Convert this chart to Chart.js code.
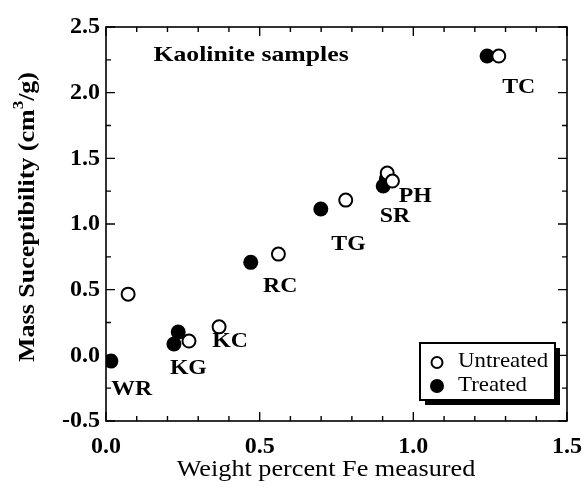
<!DOCTYPE html>
<html><head><meta charset="utf-8">
<script src="https://cdn.jsdelivr.net/npm/chart.js@4"></script>
<style>html,body{margin:0;padding:0;background:#fff}#wrap{width:584px;height:495px}</style>
</head><body><div id="wrap"><canvas id="c" width="584" height="495"></canvas></div>
<script>
// ---- data ----
const untreatedX = [0.072, 0.270, 0.368, 0.561, 0.780, 0.915, 0.932, 1.278];
const untreatedY = [0.466, 0.109, 0.217, 0.771, 1.182, 1.388, 1.327, 2.279];
const treatedX = [0.016, 0.235, 0.221, 0.471, 0.699, 0.912, 0.902, 1.240];
const treatedY = [-0.044, 0.177, 0.086, 0.708, 1.114, 1.342, 1.289, 2.279];
const sampleLabels = ['TC', 'PH', 'SR', 'TG', 'RC', 'KC', 'KG', 'WR'];
const labelX = [1.343, 1.006, 0.940, 0.789, 0.567, 0.404, 0.268, 0.084];
const labelY = [2.040, 1.213, 1.055, 0.847, 0.527, 0.109, -0.100, -0.259];
const noteText = 'Kaolinite samples';
const noteX = 0.472, noteY = 2.287;
const xRange = [0, 1.5], yRange = [-0.5, 2.5];
const xMajor = 0.5, xMinor = 0.1, yMajor = 0.5, yMinor = 0.25;
const seriesNames = ['Untreated', 'Treated'];
const xTitle = 'Weight percent Fe measured';
const yTitleA = 'Mass Suceptibility (cm', yTitleSup = '3', yTitleB = '/g)';

const SERIF = '"Liberation Serif", "Times New Roman", serif';
const toPts = (xs, ys) => xs.map((x, i) => ({x: x, y: ys[i]}));

// draw text stretched along its direction by sx (scan looks wider than Liberation metrics)
function sText(ctx, t, x, y, font, sx, align) {
  ctx.save();
  ctx.font = font;
  ctx.translate(x, y);
  ctx.scale(sx, 1);
  ctx.textAlign = align || 'center';
  ctx.fillText(t, 0, 0);
  ctx.restore();
}

const decor = {
  id: 'decor',
  beforeDatasetsDraw(chart) {
    const {ctx, chartArea: a, scales: {x, y}} = chart;
    ctx.save();
    ctx.strokeStyle = '#000';
    ctx.lineWidth = 1.6;
    ctx.strokeRect(a.left, a.top, a.right - a.left, a.bottom - a.top);
    ctx.lineWidth = 1.4;
    ctx.beginPath();
    const nx = Math.round((xRange[1] - xRange[0]) / xMinor);
    for (let i = 0; i <= nx; i++) {
      const v = xRange[0] + i * xMinor;
      const major = Math.abs(v / xMajor - Math.round(v / xMajor)) < 1e-6;
      const L = major ? 9 : 5;
      const px = x.getPixelForValue(v);
      ctx.moveTo(px, a.bottom); ctx.lineTo(px, a.bottom - L);
      ctx.moveTo(px, a.top); ctx.lineTo(px, a.top + L);
    }
    const ny = Math.round((yRange[1] - yRange[0]) / yMinor);
    for (let i = 0; i <= ny; i++) {
      const v = yRange[0] + i * yMinor;
      const major = Math.abs(v / yMajor - Math.round(v / yMajor)) < 1e-6;
      const L = major ? 9 : 5;
      const py = y.getPixelForValue(v);
      ctx.moveTo(a.left, py); ctx.lineTo(a.left + L, py);
      ctx.moveTo(a.right, py); ctx.lineTo(a.right - L, py);
    }
    ctx.stroke();
    ctx.restore();
  },
  afterDatasetsDraw(chart) {
    const {ctx, chartArea: a, scales: {x, y}} = chart;
    ctx.save();
    ctx.fillStyle = '#000';
    ctx.textBaseline = 'middle';
    const fLab = 'bold 22px ' + SERIF;
    sampleLabels.forEach((t, i) => {
      sText(ctx, t, x.getPixelForValue(labelX[i]), y.getPixelForValue(labelY[i]), fLab, 1.08);
    });
    sText(ctx, noteText, x.getPixelForValue(noteX), y.getPixelForValue(noteY), 'bold 22px ' + SERIF, 1.17);

    // legend box
    const bx = a.right - 147, by = a.bottom - 78, bw = 135, bh = 57;
    ctx.fillRect(bx + 5, by + 5, bw, bh);
    ctx.fillStyle = '#fff';
    ctx.fillRect(bx, by, bw, bh);
    ctx.lineWidth = 2;
    ctx.strokeStyle = '#000';
    ctx.strokeRect(bx, by, bw, bh);
    ctx.fillStyle = '#000';
    const rows = [by + 18.5, by + 42];
    ctx.beginPath();
    ctx.arc(bx + 17, rows[0] + 1, 5.5, 0, Math.PI * 2);
    ctx.lineWidth = 2; ctx.stroke();
    ctx.beginPath();
    ctx.arc(bx + 17, rows[1] + 1, 7, 0, Math.PI * 2);
    ctx.fill();
    const fLeg = '22px ' + SERIF;
    sText(ctx, seriesNames[0], bx + 38, rows[0], fLeg, 1.04, 'left');
    sText(ctx, seriesNames[1], bx + 38, rows[1], fLeg, 1.04, 'left');

    // x title
    sText(ctx, xTitle, 326, 470, '23px ' + SERIF, 1.14);

    // y title (rotated, with superscript)
    ctx.translate(26, 217);
    ctx.rotate(-Math.PI / 2);
    ctx.scale(1.13, 1);
    const fMain = 'bold 23px ' + SERIF, fSup = 'bold 15px ' + SERIF;
    ctx.font = fMain; const wA = ctx.measureText(yTitleA).width, wB = ctx.measureText(yTitleB).width;
    ctx.font = fSup; const wS = ctx.measureText(yTitleSup).width;
    let cx = -(wA + wS + wB) / 2;
    ctx.textAlign = 'left';
    ctx.textBaseline = 'alphabetic';
    ctx.font = fMain; ctx.fillText(yTitleA, cx, 8); cx += wA;
    ctx.font = fSup; ctx.fillText(yTitleSup, cx, -3); cx += wS;
    ctx.font = fMain; ctx.fillText(yTitleB, cx, 8);
    ctx.restore();
  }
};

new Chart(document.getElementById('c'), {
  type: 'scatter',
  data: {
    datasets: [
      {label: seriesNames[0], data: toPts(untreatedX, untreatedY), pointRadius: 6.5, pointHoverRadius: 6.5,
       pointBackgroundColor: '#fff', pointBorderColor: '#000', pointBorderWidth: 2, clip: 0},
      {label: seriesNames[1], data: toPts(treatedX, treatedY), pointRadius: 7.5, pointHoverRadius: 7.5,
       pointBackgroundColor: '#000', pointBorderColor: '#000', pointBorderWidth: 0, clip: 0}
    ]
  },
  options: {
    responsive: false, animation: false, devicePixelRatio: 1,
    layout: {padding: {top: 27, right: 17, left: 0, bottom: 0}},
    plugins: {legend: {display: false}, tooltip: {enabled: false}},
    scales: {
      x: {type: 'linear', min: xRange[0], max: xRange[1],
          grid: {display: false, drawTicks: false}, border: {display: false},
          ticks: {stepSize: xMajor, callback: v => Number(v).toFixed(1), color: '#000', padding: 11,
                  font: {family: SERIF, size: 24, weight: 'bold'}},
          afterFit: s => { s.height = 74; s.paddingLeft = 0; s.paddingRight = 0; }},
      y: {type: 'linear', min: yRange[0], max: yRange[1],
          grid: {display: false, drawTicks: false}, border: {display: false},
          ticks: {stepSize: yMajor, callback: v => Number(v).toFixed(1), color: '#000', padding: 6,
                  font: {family: SERIF, size: 24, weight: 'bold'}},
          afterFit: s => { s.width = 106; s.paddingTop = 0; s.paddingBottom = 0; }}
    }
  },
  plugins: [decor]
});
</script></body></html>
